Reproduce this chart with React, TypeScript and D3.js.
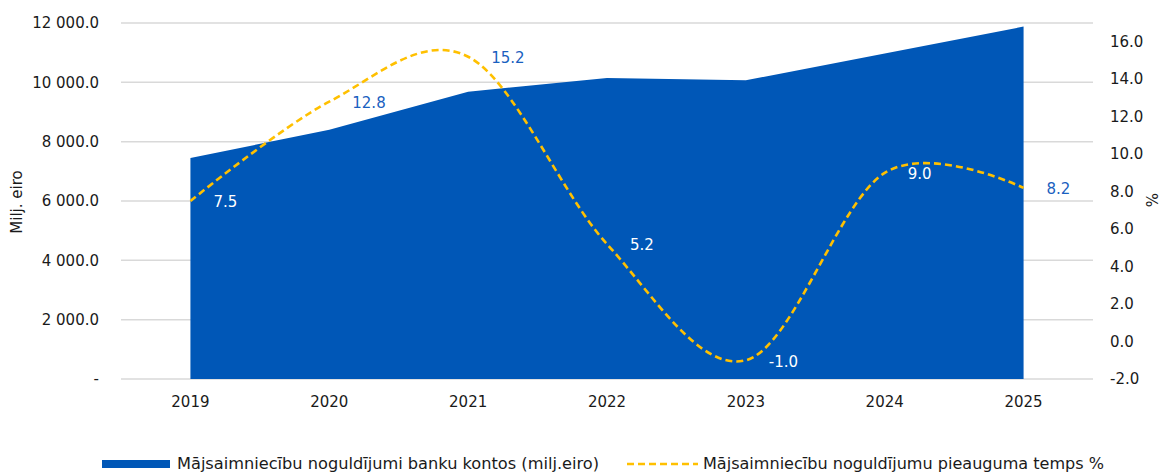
import React, { useEffect } from "react";
import * as d3 from "d3";

// chart data
const years = ["2019", "2020", "2021", "2022", "2023", "2024", "2025"];
const deposits = [7450, 8400, 9680, 10150, 10070, 10970, 11880];
const growth = [7.5, 12.8, 15.2, 5.2, -1.0, 9.0, 8.2];
const leftTicks = [0, 2000, 4000, 6000, 8000, 10000, 12000];
const rightTicks = [-2, 0, 2, 4, 6, 8, 10, 12, 14, 16];
const areaName = "Mājsaimniecību noguldījumi banku kontos (milj.eiro)";
const lineName = "Mājsaimniecību noguldījumu pieauguma temps %";

const W = 1162, H = 473;
const margin = { top: 23, right: 69, bottom: 94, left: 121 };
const FONT = "Verdana, 'DejaVu Sans', sans-serif";
const BLUE = "#0057b7";
const GOLD = "#ffc000";
const LABEL_BLUE = "#1a5fc0";

const fmtLeft = (v: number) =>
  v === 0 ? "-" : d3.format(",.1f")(v).replace(/,/g, " ");

export default function App() {
  useEffect(() => {
    document.body.style.margin = "0";
  }, []);

  const x = d3.scaleBand().domain(years).range([margin.left, W - margin.right]);
  const cx = (y: string) => (x(y) as number) + x.bandwidth() / 2;
  const yL = d3.scaleLinear().domain([0, 12000]).range([H - margin.bottom, margin.top]);
  const yR = d3.scaleLinear().domain([-2, 17]).range([H - margin.bottom, margin.top]);

  const area = d3.area<number>()
    .x((_, i) => cx(years[i]))
    .y0(yL(0))
    .y1(d => yL(d));

  const line = d3.line<number>()
    .x((_, i) => cx(years[i]))
    .y(d => yR(d))
    .curve(d3.curveCatmullRom.alpha(0));

  // area top at some x (for label colour)
  const areaTop = (px: number) => {
    const xs = years.map(cx);
    if (px < xs[0] || px > xs[xs.length - 1]) return Infinity;
    return d3.scaleLinear().domain(xs).range(deposits.map(d => yL(d)))(px);
  };

  return (
    <svg width={W} height={H} style={{ display: "block" }} fontFamily={FONT}>
      {leftTicks.map(t => (
        <line key={"g" + t} x1={margin.left} x2={W - margin.right} y1={yL(t)} y2={yL(t)}
          stroke="#d9d9d9" strokeWidth={1.5} />
      ))}
      <path d={area(deposits) || ""} fill={BLUE} />
      <path d={line(growth) || ""} fill="none" stroke={GOLD} strokeWidth={2.6}
        strokeDasharray="7,4" />

      {growth.map((v, i) => {
        const lx = cx(years[i]) + 23;
        const ly = yR(v) + 1;
        const inside = ly > areaTop(lx + 17);
        return (
          <text key={"l" + i} x={lx} y={ly} dy="0.35em" fontSize={15}
            fill={inside ? "#ffffff" : LABEL_BLUE}>{v.toFixed(1)}</text>
        );
      })}

      {leftTicks.map(t => (
        <text key={"yl" + t} x={99} y={yL(t)} dy="0.35em" textAnchor="end" fontSize={15}
          fill="#1a1a1a">{fmtLeft(t)}</text>
      ))}
      {rightTicks.map(t => (
        <text key={"yr" + t} x={1110} y={yR(t)} dy="0.35em" fontSize={15}
          fill="#1a1a1a">{t.toFixed(1)}</text>
      ))}
      {years.map(yr => (
        <text key={"x" + yr} x={cx(yr)} y={407} textAnchor="middle" fontSize={15}
          fill="#1a1a1a">{yr}</text>
      ))}

      <text transform="translate(22,202) rotate(-90)" textAnchor="middle" fontSize={15}
        fill="#1a1a1a">Milj. eiro</text>
      <text transform="translate(1146,200) rotate(90)" textAnchor="middle" fontSize={15}
        fill="#1a1a1a">%</text>

      {/* legend */}
      <rect x={102} y={460} width={68} height={8} fill={BLUE} />
      <text x={177} y={469} fontSize={16} textLength={422} lengthAdjust="spacingAndGlyphs"
        fill="#1a1a1a">{areaName}</text>
      <line x1={627} x2={698} y1={464} y2={464} stroke={GOLD} strokeWidth={2.6}
        strokeDasharray="7,4" />
      <text x={703} y={469} fontSize={16} textLength={401} lengthAdjust="spacingAndGlyphs"
        fill="#1a1a1a">{lineName}</text>
    </svg>
  );
}
